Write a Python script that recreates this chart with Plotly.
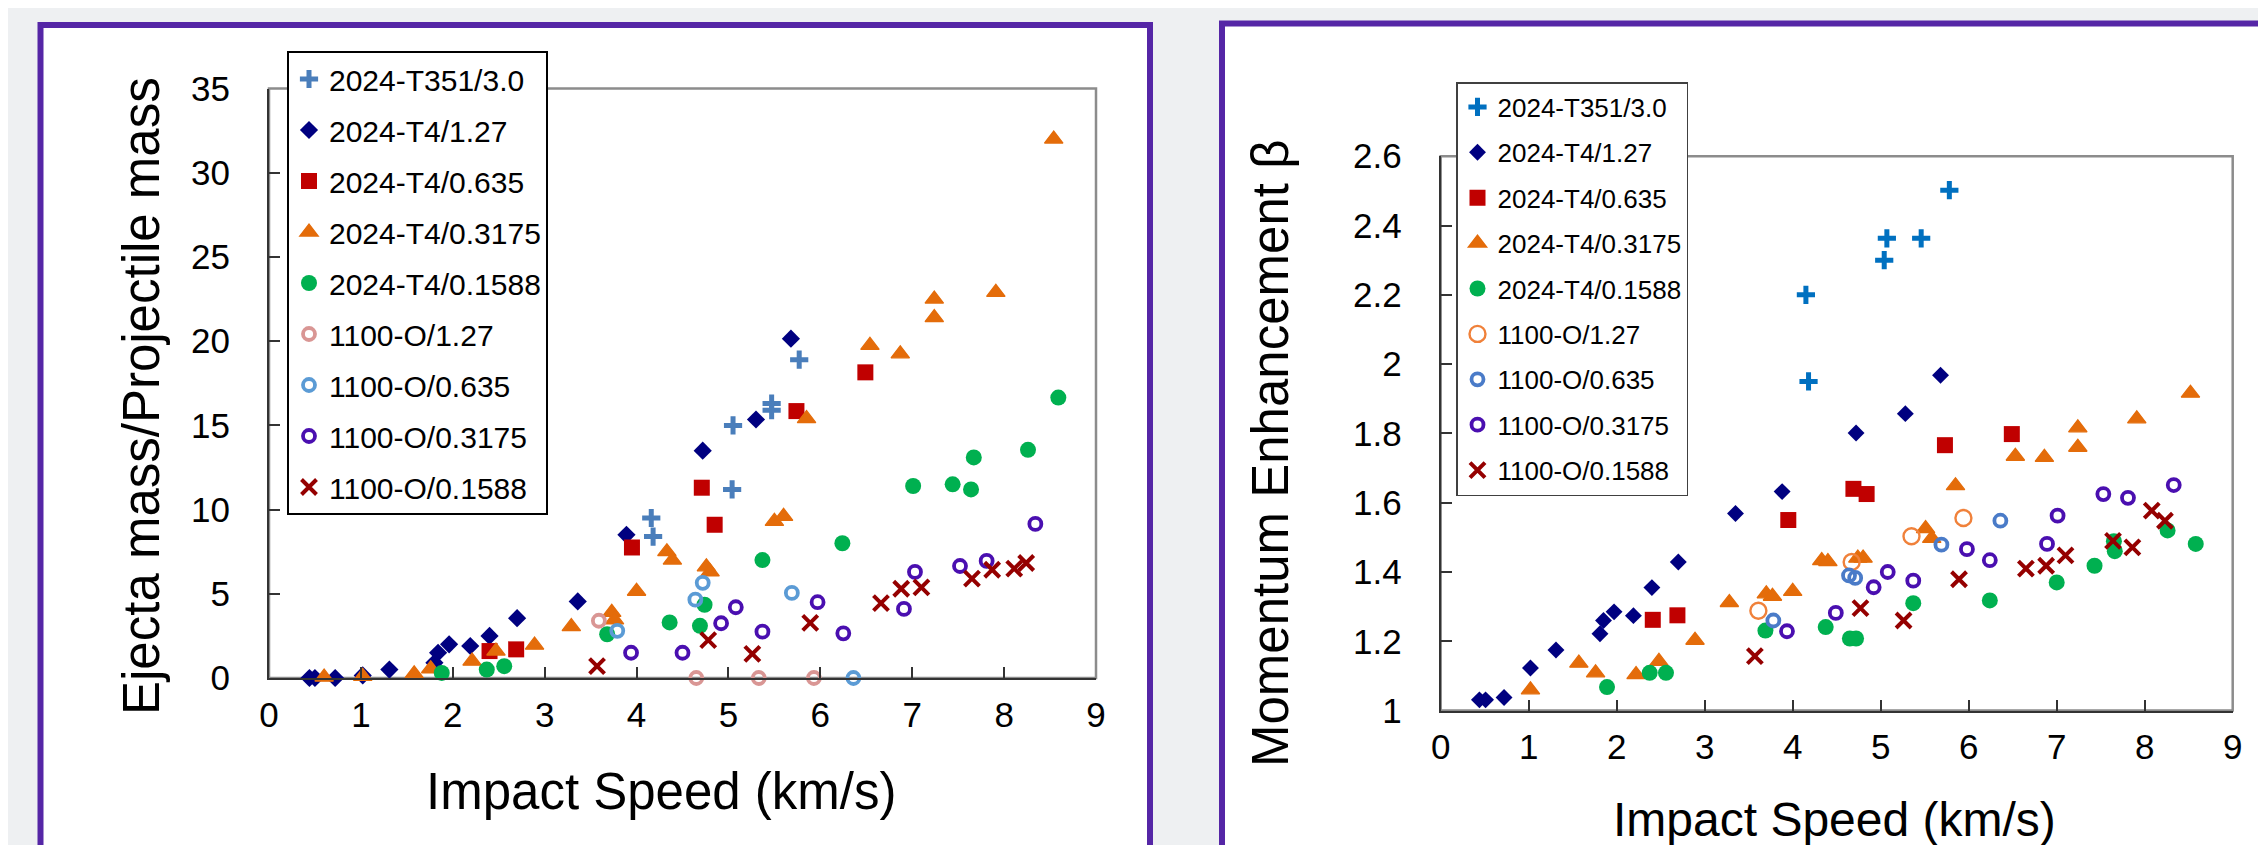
import plotly.graph_objects as go

W, H = 2266, 845

# ---------------- data: left panel (ejecta mass ratio) ----------------
L_t351_v = [4.16, 4.18, 5.04, 5.05, 5.47, 5.47, 5.77]
L_t351_m = [9.5, 8.4, 11.2, 15.0, 16.3, 15.9, 18.9]
L_t4_127_v = [0.44, 0.50, 0.72, 1.02, 1.31, 1.80, 1.84, 1.96, 2.19, 2.40, 2.70, 3.36, 3.89, 4.72, 5.30, 5.68]
L_t4_127_m = [0, 0, 0, 0.15, 0.5, 0.9, 1.5, 2.0, 1.9, 2.5, 3.55, 4.55, 8.5, 13.5, 15.35, 20.15]
L_t4_0635_v = [2.40, 2.69, 3.95, 4.71, 4.85, 5.74, 6.49]
L_t4_0635_m = [1.6, 1.7, 7.75, 11.3, 9.1, 15.85, 18.15]
L_t4_03175_v = [0.60, 1.02, 1.58, 1.76, 2.21, 2.47, 2.89, 3.29, 3.73, 3.76, 4.00, 4.33, 4.39, 4.76, 4.80,
                5.50, 5.60, 5.85, 6.54, 6.87, 7.24, 7.24, 7.91, 8.54]
L_t4_03175_m = [0.05, 0.1, 0.25, 0.55, 1.0, 1.6, 1.95, 3.05, 3.9, 3.45, 5.15, 7.5, 7.0, 6.6, 6.3,
                9.3, 9.6, 15.4, 19.75, 19.25, 22.5, 21.4, 22.9, 32.0]
L_t4_01588_v = [1.88, 2.37, 2.56, 3.68, 4.36, 4.69, 4.74, 5.37, 6.24, 7.01, 7.44, 7.64, 7.67, 8.26, 8.59]
L_t4_01588_m = [0.3, 0.5, 0.7, 2.6, 3.3, 3.1, 4.35, 7.0, 8.0, 11.4, 11.5, 11.2, 13.1, 13.55, 16.65]
L_o_127_v = [3.59, 4.65, 5.33, 5.93]
L_o_127_m = [3.4, 0, 0, 0]
L_o_0635_v = [3.79, 4.64, 4.72, 5.69, 6.36]
L_o_0635_m = [2.8, 4.65, 5.65, 5.05, 0]
L_o_03175_v = [3.94, 4.50, 4.92, 5.08, 5.37, 5.97, 6.25, 6.91, 7.03, 7.52, 7.81, 8.34]
L_o_03175_m = [1.5, 1.5, 3.25, 4.2, 2.75, 4.5, 2.65, 4.1, 6.3, 6.65, 6.95, 9.15]
L_o_01588_v = [3.57, 4.78, 5.26, 5.89, 6.66, 6.88, 7.10, 7.65, 7.87, 8.11, 8.24]
L_o_01588_m = [0.7, 2.25, 1.43, 3.27, 4.45, 5.3, 5.38, 5.9, 6.43, 6.5, 6.83]

# ---------------- data: right panel (momentum enhancement beta) ----------------
R_t351_v = [4.15, 4.18, 5.04, 5.07, 5.46, 5.78]
R_t351_b = [2.20, 1.95, 2.30, 2.363, 2.363, 2.502]
R_t4_127_v = [0.44, 0.51, 0.72, 1.02, 1.31, 1.81, 1.85, 1.97, 2.19, 2.40, 2.70, 3.35, 3.88, 4.72, 5.28, 5.68]
R_t4_127_b = [1.031, 1.031, 1.038, 1.123, 1.175, 1.222, 1.26, 1.285, 1.274, 1.355, 1.429, 1.569, 1.632,
              1.801, 1.857, 1.968]
R_t4_0635_v = [2.41, 2.69, 3.95, 4.69, 4.84, 5.73, 6.49]
R_t4_0635_b = [1.262, 1.275, 1.55, 1.64, 1.625, 1.766, 1.798]
R_t4_03175_v = [1.02, 1.57, 1.76, 2.22, 2.48, 2.89, 3.28, 3.70, 3.77, 4.00, 4.33, 4.40, 4.74, 4.80,
                5.51, 5.58, 5.85, 6.53, 6.86, 7.24, 7.24, 7.91, 8.52]
R_t4_03175_b = [1.06, 1.137, 1.109, 1.104, 1.142, 1.203, 1.312, 1.337, 1.33, 1.344, 1.433, 1.43, 1.44, 1.44,
                1.525, 1.497, 1.649, 1.734, 1.731, 1.816, 1.76, 1.842, 1.916]
R_t4_01588_v = [1.89, 2.375, 2.56, 3.69, 4.375, 4.65, 4.72, 5.37, 6.24, 7.00, 7.43, 7.65, 7.66, 8.26, 8.58]
R_t4_01588_b = [1.068, 1.109, 1.109, 1.231, 1.241, 1.208, 1.208, 1.31, 1.318, 1.37, 1.418, 1.489, 1.46,
                1.52, 1.481]
R_o_127_v = [3.61, 4.67, 5.35, 5.94]
R_o_127_b = [1.288, 1.429, 1.503, 1.556]
R_o_0635_v = [3.78, 4.64, 4.71, 5.69, 6.36]
R_o_0635_b = [1.26, 1.39, 1.383, 1.479, 1.548]
R_o_03175_v = [3.935, 4.49, 4.92, 5.08, 5.37, 5.98, 6.24, 6.89, 7.01, 7.53, 7.81, 8.33]
R_o_03175_b = [1.229, 1.282, 1.356, 1.40, 1.375, 1.466, 1.434, 1.481, 1.5625, 1.625, 1.614, 1.651]
R_o_01588_v = [3.57, 4.77, 5.26, 5.89, 6.65, 6.88, 7.10, 7.64, 7.86, 8.08, 8.23]
R_o_01588_b = [1.157, 1.296, 1.26, 1.379, 1.41, 1.418, 1.448, 1.49, 1.471, 1.577, 1.548]

names = ["2024-T351/3.0", "2024-T4/1.27", "2024-T4/0.635", "2024-T4/0.3175", "2024-T4/0.1588",
         "1100-O/1.27", "1100-O/0.635", "1100-O/0.3175", "1100-O/0.1588"]

x_ticks = list(range(0, 10))
left_y_ticks = [0, 5, 10, 15, 20, 25, 30, 35]
right_y_ticks = [1, 1.2, 1.4, 1.6, 1.8, 2, 2.2, 2.4, 2.6]

FONT = "Liberation Sans, Arial, sans-serif"


def marker_style(kind, color, big=False, dsize=13):
    if kind == "cross":
        return dict(symbol="cross-thin", size=13, line=dict(color=color, width=5), color=color)
    if kind == "diamond":
        return dict(symbol="diamond", size=dsize, color=color, line=dict(width=0))
    if kind == "square":
        return dict(symbol="square", size=16, color=color, line=dict(width=0))
    if kind == "triangle":
        return dict(symbol="triangle-up", size=16, color=color, line=dict(color=color, width=1.3))
    if kind == "circle":
        return dict(symbol="circle", size=16, color=color, line=dict(width=0))
    if kind == "open":
        if big:
            return dict(symbol="circle-open", size=16, color=color, line=dict(color=color, width=2.4))
        return dict(symbol="circle-open", size=12, color=color, line=dict(color=color, width=3.8))
    if kind == "x":
        return dict(symbol="x-thin", size=15, color=color, line=dict(color=color, width=4))


left_series = [
    (L_t351_v, L_t351_m, "cross", "#4A7EBB", False),
    (L_t4_127_v, L_t4_127_m, "diamond", "#000080", False),
    (L_t4_0635_v, L_t4_0635_m, "square", "#C00000", False),
    (L_t4_03175_v, L_t4_03175_m, "triangle", "#E46C0A", False),
    (L_t4_01588_v, L_t4_01588_m, "circle", "#00B050", False),
    (L_o_127_v, L_o_127_m, "open", "#D99694", False),
    (L_o_0635_v, L_o_0635_m, "open", "#5B9BD5", False),
    (L_o_03175_v, L_o_03175_m, "open", "#4A0FB0", False),
    (L_o_01588_v, L_o_01588_m, "x", "#950000", False),
]
right_series = [
    (R_t351_v, R_t351_b, "cross", "#0070C0", False),
    (R_t4_127_v, R_t4_127_b, "diamond", "#000080", False),
    (R_t4_0635_v, R_t4_0635_b, "square", "#C00000", False),
    (R_t4_03175_v, R_t4_03175_b, "triangle", "#E46C0A", False),
    (R_t4_01588_v, R_t4_01588_b, "circle", "#00B050", False),
    (R_o_127_v, R_o_127_b, "open", "#F0813A", True),
    (R_o_0635_v, R_o_0635_b, "open", "#4A7BC8", False),
    (R_o_03175_v, R_o_03175_b, "open", "#4A0FB0", False),
    (R_o_01588_v, R_o_01588_b, "x", "#950000", False),
]

fig = go.Figure()
for i, (xs, ys, kind, col, big) in enumerate(left_series):
    fig.add_trace(go.Scatter(x=xs, y=ys, mode="markers", name=names[i], xaxis="x", yaxis="y",
                             marker=marker_style(kind, col, big, 14), cliponaxis=False,
                             legend="legend", legendgroup="L%d" % i))
for i, (xs, ys, kind, col, big) in enumerate(right_series):
    fig.add_trace(go.Scatter(x=xs, y=ys, mode="markers", name=names[i], xaxis="x2", yaxis="y2",
                             marker=marker_style(kind, col, big, 13), cliponaxis=False,
                             legend="legend2", legendgroup="R%d" % i))


def px(x):
    return x / W


def py(y):
    return 1 - y / H


axis_common = dict(showgrid=False, zeroline=False, showline=True, linecolor="#333333", linewidth=2,
                   ticks="inside", ticklen=11, tickwidth=2, tickcolor="#333333", automargin=False,
                   tickfont=dict(family=FONT, size=35, color="#000000"), mirror=False)

fig.update_layout(
    template="none",
    width=W, height=H, margin=dict(l=0, r=0, t=0, b=0, pad=0, autoexpand=False),
    paper_bgcolor="#EEF0F2", plot_bgcolor="#FFFFFF",
    font=dict(family=FONT, color="#000000"),
    xaxis=dict(domain=[px(261), px(1088)], range=[0, 9], tickvals=x_ticks, anchor="y",
               ticklabelstandoff=5, **axis_common),
    yaxis=dict(domain=[py(670), py(80.6)], range=[0, 35], tickvals=left_y_ticks, anchor="x",
               ticklabelstandoff=30, **axis_common),
    xaxis2=dict(domain=[px(1432.7), px(2224.7)], range=[0, 9], tickvals=x_ticks, anchor="y2",
                ticklabelstandoff=4, **axis_common),
    yaxis2=dict(domain=[py(702.6), py(148.2)], range=[1, 2.6], tickvals=right_y_ticks, anchor="x2",
                ticklabelstandoff=30, **axis_common),
    legend=dict(x=px(279), y=py(43), xanchor="left", yanchor="top", bgcolor="#FFFFFF",
                bordercolor="#000000", borderwidth=2, font=dict(family=FONT, size=30, color="#000000"),
                traceorder="grouped", tracegroupgap=9, itemwidth=30),
    legend2=dict(x=px(1448), y=py(74), xanchor="left", yanchor="top", bgcolor="#FFFFFF",
                 bordercolor="#404040", borderwidth=1.5, font=dict(family=FONT, size=26, color="#000000"),
                 traceorder="grouped", tracegroupgap=8.6, itemwidth=30),
    showlegend=True,
)

shapes = [
    dict(type="rect", xref="paper", yref="paper", x0=px(32.5), x1=px(1142), y0=py(900), y1=py(17),
         fillcolor="#FFFFFF", line=dict(color="#5526A6", width=6), layer="below"),
    dict(type="rect", xref="paper", yref="paper", x0=px(1214), x1=px(2330), y0=py(900), y1=py(15.5),
         fillcolor="#FFFFFF", line=dict(color="#5526A6", width=6), layer="below"),
    dict(type="rect", xref="x domain", yref="y domain", x0=0, x1=1, y0=0, y1=1,
         line=dict(color="#8C8C8C", width=2.5), layer="below"),
    dict(type="rect", xref="x2 domain", yref="y2 domain", x0=0, x1=1, y0=0, y1=1,
         line=dict(color="#8C8C8C", width=2.5), layer="below"),
]
fig.update_layout(shapes=shapes)

annotations = [
    dict(text="Impact Speed (km/s)", xref="paper", yref="paper", x=px(653), y=py(783),
         xanchor="center", yanchor="middle", showarrow=False, font=dict(family=FONT, size=51, color="#000000")),
    dict(text="Ejecta mass/Projectile mass", xref="paper", yref="paper", x=px(133), y=py(388),
         xanchor="center", yanchor="middle", textangle=-90, showarrow=False,
         font=dict(family=FONT, size=51, color="#000000")),
    dict(text="Impact Speed (km/s)", xref="paper", yref="paper", x=px(1826), y=py(811),
         xanchor="center", yanchor="middle", showarrow=False, font=dict(family=FONT, size=48, color="#000000")),
    dict(text="Momentum Enhancement β", xref="paper", yref="paper", x=px(1262), y=py(446),
         xanchor="center", yanchor="middle", textangle=-90, showarrow=False,
         font=dict(family=FONT, size=51, color="#000000")),
]
fig.update_layout(annotations=annotations)

fig.write_html("out.html")
